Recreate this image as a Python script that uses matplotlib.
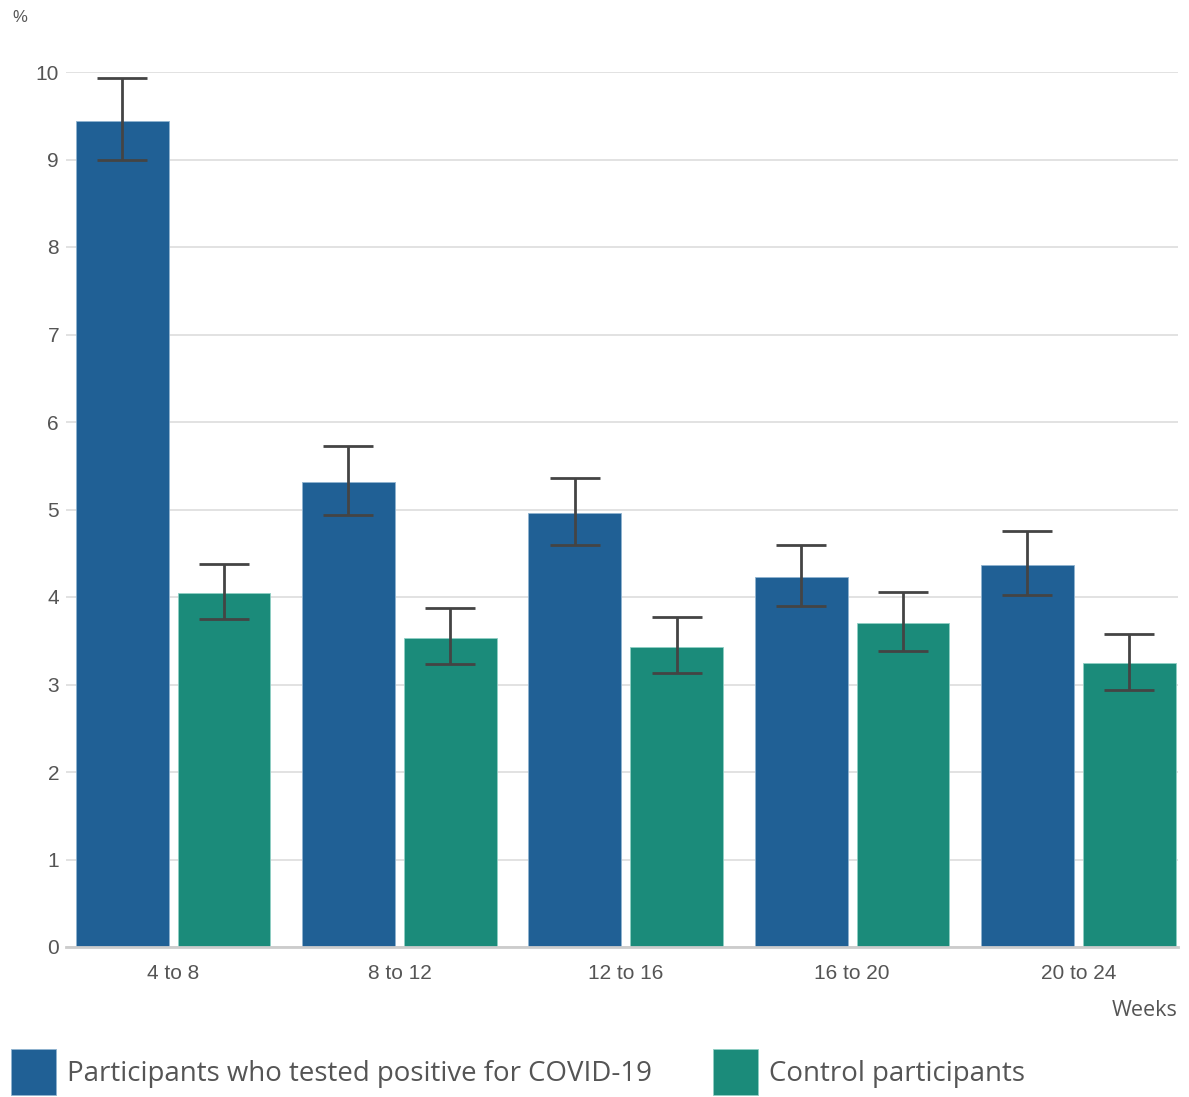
import matplotlib
matplotlib.use("Agg")
import matplotlib.pyplot as plt
import numpy as np

# weeks since infection / enrolment
periods = ["4 to 8", "8 to 12", "12 to 16", "16 to 20", "20 to 24"]

positive = [9.44, 5.31, 4.96, 4.23, 4.37]
positive_lo = [8.99, 4.94, 4.59, 3.90, 4.02]
positive_hi = [9.93, 5.73, 5.36, 4.59, 4.75]

control = [4.05, 3.53, 3.43, 3.70, 3.25]
control_lo = [3.75, 3.23, 3.13, 3.38, 2.94]
control_hi = [4.38, 3.87, 3.77, 4.06, 3.58]

BLUE = "#206095"
GREEN = "#1b8b7a"
TXT = "#555555"

fig = plt.figure(figsize=(11.89, 10.97), dpi=100)
ax = fig.add_axes([66 / 1189, 1 - 947 / 1097, (1178 - 66) / 1189, (947 - 72) / 1097])

x = np.arange(len(periods))
w = 0.41
off = 0.225

def err(vals, lo, hi):
    v = np.array(vals)
    return [v - np.array(lo), np.array(hi) - v]

ax.bar(x - off, positive, w, color=BLUE, edgecolor="#8fb3d0", linewidth=0.6, zorder=2,
       label="Participants who tested positive for COVID-19")
ax.bar(x + off, control, w, color=GREEN, edgecolor="#8fcfc4", linewidth=0.6, zorder=2,
       label="Control participants")
ekw = dict(fmt="none", ecolor="#444444", elinewidth=2, capsize=18, capthick=2, zorder=3)
ax.errorbar(x - off, positive, yerr=err(positive, positive_lo, positive_hi), **ekw)
ax.errorbar(x + off, control, yerr=err(control, control_lo, control_hi), **ekw)

ax.set_xlim(-0.473, 4.44)
ax.set_ylim(0, 10)
ax.set_yticks(range(0, 11))
ax.set_xticks(x)
ax.set_xticklabels(periods)
ax.yaxis.grid(True, color="#dddddd", linewidth=1.2, zorder=0)
ax.set_axisbelow(True)
for s in ["top", "right", "left"]:
    ax.spines[s].set_visible(False)
ax.spines["bottom"].set_color("#cccccc")
ax.spines["bottom"].set_linewidth(2)
ax.spines["bottom"].set_zorder(4)
ax.tick_params(axis="y", length=0, pad=5, labelsize=15, labelcolor=TXT)
ax.tick_params(axis="x", length=0, pad=12, labelsize=15, labelcolor=TXT)
for lab in ax.get_xticklabels() + ax.get_yticklabels():
    lab.set_family("Liberation Sans")

fig.text(12 / 1189, 1 - 18 / 1097, "%", fontsize=12, color=TXT, family="Liberation Sans",
         va="center", ha="left")
fig.text(1178 / 1189, 1 - 1010 / 1097, "Weeks", fontsize=15.5, color=TXT,
         family="Open Sans", va="center", ha="right")

fig.legend(loc="center left", bbox_to_anchor=(11 / 1189, 1 - 1072 / 1097), ncol=2, frameon=False,
           prop={"family": "Open Sans", "size": 19.9}, labelcolor="#555555",
           handlelength=1.63, handleheight=2.2, handletextpad=0.4, columnspacing=2.2,
           borderpad=0, borderaxespad=0)

fig.savefig("out.png", dpi=100)
